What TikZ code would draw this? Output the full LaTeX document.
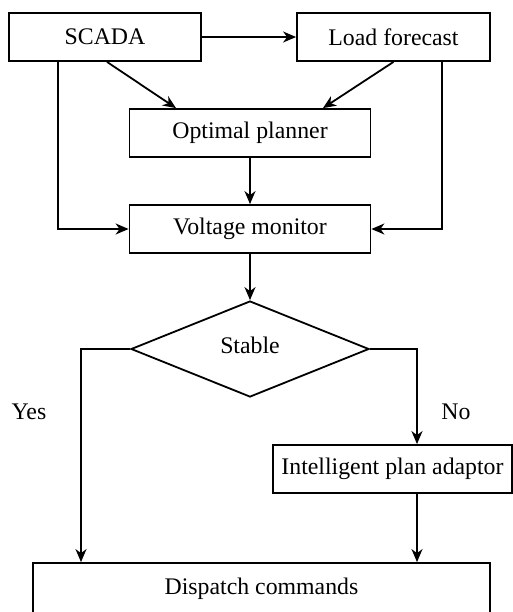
\documentclass[tikz,border=0pt]{standalone}
\usepackage{fontspec}
\setmainfont{Liberation Serif}
\usetikzlibrary{arrows.meta,shapes.geometric,calc}
\begin{document}
\begin{tikzpicture}[x=0.5pt,y=-0.5pt,
  every node/.style={font=\fontsize{11.9}{14}\selectfont},
  box/.style={draw,line width=0.9pt,rectangle,inner sep=0pt},
  decision/.style={draw,line width=0.9pt,diamond,inner sep=0pt,minimum width=119pt,minimum height=48pt},
  lbl/.style={inner sep=0pt},
  conn/.style={line width=0.9pt,-{Stealth[length=6.5pt,width=5.5pt,inset=2pt]}}]
\useasboundingbox (0,0) rectangle (513,612);
\node[box,minimum width=96pt,minimum height=24pt] (scada) at (105,37) {SCADA};
\node[box,minimum width=96.5pt,minimum height=24pt] (load) at (393.5,37) {Load forecast};
\node[box,minimum width=120.5pt,minimum height=24pt] (planner) at (250,133) {Optimal planner};
\node[box,minimum width=120.5pt,minimum height=24pt] (voltage) at (250,229) {Voltage monitor};
\node[decision] (stable) at (250,349) {};
\node[lbl] (stabletxt) at (250,345) {Stable};
\node[box,minimum width=119.5pt,minimum height=24pt] (adaptor) at (392.5,469) {Intelligent plan adaptor};
\node[box,minimum width=228.5pt,minimum height=26pt] (dispatch) at (261.5,589) {Dispatch commands};
\node[lbl] (yes) at (29,412) {Yes};
\node[lbl] (no) at (456,412) {No};
\draw[conn] (scada.east) -- (load.west);
\draw[conn] ([xshift=1pt]scada.south) -- ([xshift=-37pt]planner.north);
\draw[conn] (load.south) -- ([xshift=36.5pt]planner.north);
\draw[conn] ([xshift=-23.5pt]scada.south) |- (voltage.west);
\draw[conn] ([xshift=24.25pt]load.south) |- (voltage.east);
\draw[conn] (planner.south) -- (voltage.north);
\draw[conn] (voltage.south) -- (stable.north);
\draw[conn] (stable.west) -| ([xshift=-90.25pt]dispatch.north);
\draw[conn] (stable.east) -| ([xshift=12.25pt]adaptor.north);
\draw[conn] ([xshift=12.25pt]adaptor.south) -- ([xshift=12.25pt]adaptor.south |- dispatch.north);
\end{tikzpicture}
\end{document}
